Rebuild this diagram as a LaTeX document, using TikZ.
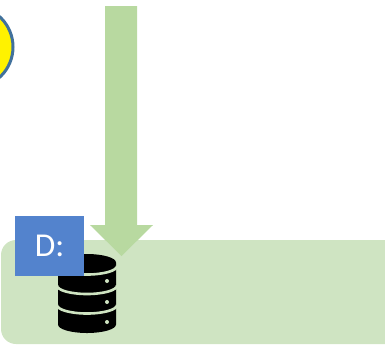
\documentclass[tikz,border=0pt]{standalone}
\usepackage{fontspec}
\setmainfont{Carlito}
\definecolor{panelgreen}{HTML}{CFE4C2}
\definecolor{arrowgreen}{HTML}{B8D9A0}
\definecolor{driveblue}{HTML}{5383CD}
\definecolor{ringblue}{HTML}{41719C}
\begin{document}
\begin{tikzpicture}[x=0.02cm,y=-0.02cm]
        \useasboundingbox (0,0) rectangle (385,346);
        \clip (0,0) rectangle (385,346);
        %% circle
        \draw[ringblue,line width=0.06cm,fill=yellow] (-28,47) circle (41);
        %% panel
        \fill[panelgreen,rounded corners=0.3cm] (1,240) rectangle (420,344);
        %% arrow
        \fill[arrowgreen] (105,6) -- (137,6) -- (137,225) -- (153,225) -- (121.5,256) -- (90,225) -- (105,225) -- cycle;
        %% database
        \fill[black] (87,262.5) ellipse[x radius=29,y radius=8.5];
        \fill[black] (58,262.5) -- (58,324.5) arc[start angle=180,end angle=0,x radius=29,y radius=8.5] -- (116,262.5) -- cycle;
        \foreach \y in {266,285.5,305} {
            \draw[panelgreen,line width=0.052cm] (57,\y) arc[start angle=180,end angle=0,x radius=30,y radius=8.5];
        }
        \foreach \y in {281,302,322} {
            \fill[panelgreen] (107,\y) circle (2);
        }
        %% drive label
        \node[fill=driveblue,text=white,minimum width=1.38cm,minimum height=1.2cm,inner sep=0pt,font=\fontsize{19}{19}\selectfont] (drive) at (49.5,246) {D:};
    \end{tikzpicture}
\end{document}
